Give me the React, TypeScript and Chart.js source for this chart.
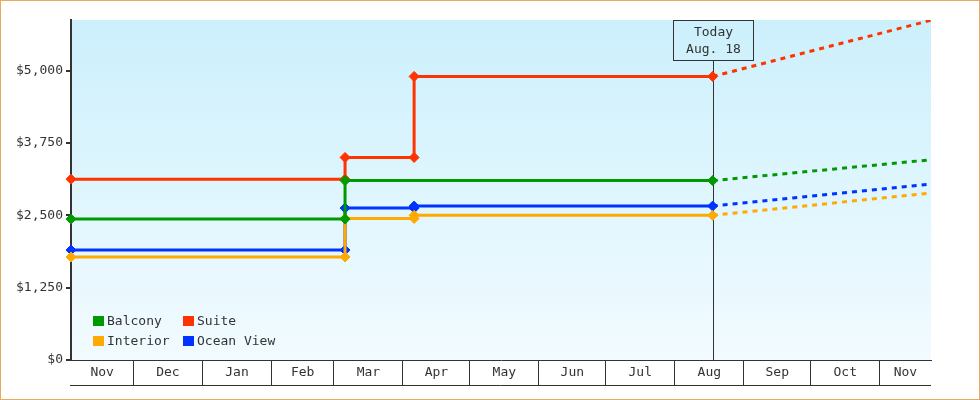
import React, { useEffect, useRef } from "react";
import { Chart, registerables } from "chart.js";

Chart.register(...registerables);

// x axis range and month cells
const axisStart = "2014-11-03";
const axisEnd = "2015-11-24";
const monthStarts = [
  "2014-12-01", "2015-01-01", "2015-02-01", "2015-03-01", "2015-04-01", "2015-05-01",
  "2015-06-01", "2015-07-01", "2015-08-01", "2015-09-01", "2015-10-01", "2015-11-01",
];
const monthLabels = ["Nov", "Dec", "Jan", "Feb", "Mar", "Apr", "May", "Jun", "Jul", "Aug", "Sep", "Oct", "Nov"];

const priceTicks = [0, 1250, 2500, 3750, 5000];
const priceMax = 5875;

const todayDate = "2015-08-18";
const todayLabel = ["Today", "Aug. 18"];

const seriesNames = ["Balcony", "Suite", "Interior", "Ocean View"];
const seriesColors = ["#009900", "#ff3300", "#ffaa00", "#0033ff"];

// price history (steps)
const balconyDates = ["2014-11-03", "2015-03-06", "2015-03-06", "2015-08-18"];
const balconyPrices = [2435, 2435, 3100, 3100];
const suiteDates = ["2014-11-03", "2015-03-06", "2015-03-06", "2015-04-06", "2015-04-06", "2015-08-18"];
const suitePrices = [3125, 3125, 3500, 3500, 4900, 4900];
const interiorDates = ["2014-11-03", "2015-03-06", "2015-03-06", "2015-04-06", "2015-04-06", "2015-08-18"];
const interiorPrices = [1780, 1780, 2445, 2445, 2500, 2500];
const oceanViewDates = ["2014-11-03", "2015-03-06", "2015-03-06", "2015-04-06", "2015-04-06", "2015-08-18"];
const oceanViewPrices = [1900, 1900, 2625, 2625, 2660, 2660];

// projected prices
const forecastDates = ["2015-08-18", "2015-11-24"];
const balconyForecast = [3100, 3460];
const suiteForecast = [4900, 5870];
const interiorForecast = [2500, 2885];
const oceanViewForecast = [2660, 3040];

const FONT = { family: "'DejaVu Sans Mono', monospace", size: 13 };
const TEXT = "#333333";

const dayOf = (s: string) => Date.parse(s + "T00:00:00Z") / 86400000;
const toPoints = (dates: string[], values: number[]) =>
  dates.map((d, i) => ({ x: dayOf(d), y: values[i] }));

export default function App() {
  const canvasRef = useRef<HTMLCanvasElement | null>(null);
  const chartRef = useRef<Chart | null>(null);

  useEffect(() => {
    if (!canvasRef.current) return;
    const ctx = canvasRef.current.getContext("2d");
    if (!ctx) return;
    if (chartRef.current) chartRef.current.destroy();

    const xMin = dayOf(axisStart);
    const xMax = dayOf(axisEnd);
    const edges = [xMin, ...monthStarts.map(dayOf), xMax];
    // label ticks in the middle of each cell, separator ticks on boundaries
    const xTicks: { value: number }[] = [];
    monthLabels.forEach((_, i) => {
      xTicks.push({ value: (edges[i] + edges[i + 1]) / 2 });
      if (i < monthStarts.length) xTicks.push({ value: edges[i + 1] });
    });

    const history = [
      [balconyDates, balconyPrices],
      [suiteDates, suitePrices],
      [interiorDates, interiorPrices],
      [oceanViewDates, oceanViewPrices],
    ] as [string[], number[]][];
    const forecasts = [balconyForecast, suiteForecast, interiorForecast, oceanViewForecast];

    const datasets: any[] = [];
    history.forEach(([dates, prices], i) => {
      datasets.push({
        label: seriesNames[i],
        data: toPoints(dates, prices),
        borderColor: seriesColors[i],
        backgroundColor: seriesColors[i],
        borderWidth: 3,
        pointStyle: "rectRot",
        pointRadius: 5,
        pointBorderWidth: 1,
        clip: false,
      });
    });
    forecasts.forEach((values, i) => {
      datasets.push({
        label: seriesNames[i] + " forecast",
        data: toPoints(forecastDates, values),
        borderColor: seriesColors[i],
        borderWidth: 3,
        borderDash: [5, 5],
        pointRadius: 0,
      });
    });

    const chartDecor = {
      id: "chartDecor",
      beforeDraw(chart: Chart) {
        const c = chart.ctx;
        const { left, right, top, bottom } = chart.chartArea;
        c.save();
        c.fillStyle = "#ffffff";
        c.fillRect(0, 0, chart.width, chart.height);
        const g = c.createLinearGradient(0, top, 0, bottom);
        g.addColorStop(0, "#ccf0fc");
        g.addColorStop(1, "#f2fbff");
        c.fillStyle = g;
        c.fillRect(left, top, right - left, bottom - top);
        c.restore();
      },
      beforeDatasetsDraw(chart: Chart) {
        const c = chart.ctx;
        const { top, bottom } = chart.chartArea;
        const x = Math.round(chart.scales.x.getPixelForValue(dayOf(todayDate))) + 0.5;
        const boxW = 80;
        const boxH = 40;
        c.save();
        c.strokeStyle = TEXT;
        c.lineWidth = 1;
        c.beginPath();
        c.moveTo(x, top + boxH);
        c.lineTo(x, bottom);
        c.stroke();
        c.strokeRect(x - boxW / 2, top + 0.5, boxW, boxH);
        c.fillStyle = TEXT;
        c.font = `${FONT.size}px ${FONT.family}`;
        c.textAlign = "center";
        c.textBaseline = "middle";
        c.fillText(todayLabel[0], x, top + 12.5);
        c.fillText(todayLabel[1], x, top + 29.5);
        c.restore();
      },
      afterDraw(chart: Chart) {
        const c = chart.ctx;
        const { left, right, bottom } = chart.chartArea;
        const xs = chart.scales.x;
        c.save();
        // bottom edge of the month strip
        c.strokeStyle = TEXT;
        c.lineWidth = 1;
        c.beginPath();
        c.moveTo(left - 1, Math.round(xs.top + 25) + 0.5);
        c.lineTo(right, Math.round(xs.top + 25) + 0.5);
        c.stroke();
        // legend inside the plot area
        c.font = `${FONT.size}px ${FONT.family}`;
        c.textAlign = "left";
        c.textBaseline = "middle";
        seriesNames.forEach((name, i) => {
          const col = i % 2;
          const row = Math.floor(i / 2);
          const sx = left + 22 + col * 90;
          const sy = bottom - 44 + row * 20;
          c.fillStyle = seriesColors[i];
          c.fillRect(sx, sy, 11, 10);
          c.fillStyle = TEXT;
          c.fillText(name, sx + 14, sy + 5.5);
        });
        // outer frame
        c.strokeStyle = "#e9a962";
        c.strokeRect(0.5, 0.5, chart.width - 1, chart.height - 1);
        c.restore();
      },
    };

    chartRef.current = new Chart(ctx, {
      type: "line",
      data: { datasets },
      options: {
        animation: false,
        responsive: false,
        events: [],
        layout: { padding: { top: 20, right: 49, bottom: 15, left: 0 } },
        plugins: {
          legend: { display: false },
          tooltip: { enabled: false },
        },
        scales: {
          x: {
            type: "linear",
            min: xMin,
            max: xMax,
            afterBuildTicks: (scale: any) => {
              scale.ticks = xTicks.map((t) => ({ ...t }));
            },
            afterFit: (scale: any) => {
              scale.height = 25;
            },
            ticks: {
              autoSkip: false,
              maxRotation: 0,
              minRotation: 0,
              padding: -20,
              color: TEXT,
              font: FONT,
              callback: (_v: any, i: number) => (i % 2 === 0 ? monthLabels[i / 2] : ""),
            },
            grid: {
              drawOnChartArea: false,
              tickLength: 25,
              lineWidth: 1,
              color: (c: any) => (c.index % 2 === 1 ? TEXT : "rgba(0,0,0,0)"),
            },
            border: { color: TEXT, width: 1 },
          },
          y: {
            type: "linear",
            min: 0,
            max: priceMax,
            afterBuildTicks: (scale: any) => {
              scale.ticks = priceTicks.map((v) => ({ value: v }));
            },
            afterFit: (scale: any) => {
              scale.width = 71;
            },
            ticks: {
              padding: 3,
              color: TEXT,
              font: FONT,
              callback: (v: any) => "$" + Number(v).toLocaleString("en-US"),
            },
            grid: { drawOnChartArea: false, tickLength: 5, lineWidth: 2, color: TEXT },
            border: { color: TEXT, width: 2 },
          },
        },
      },
      plugins: [chartDecor],
    });

    return () => {
      if (chartRef.current) {
        chartRef.current.destroy();
        chartRef.current = null;
      }
    };
  }, []);

  return (
    <div style={{ position: "absolute", left: 0, top: 0, width: 980, height: 400 }}>
      <canvas ref={canvasRef} width={980} height={400} style={{ display: "block" }} />
    </div>
  );
}
